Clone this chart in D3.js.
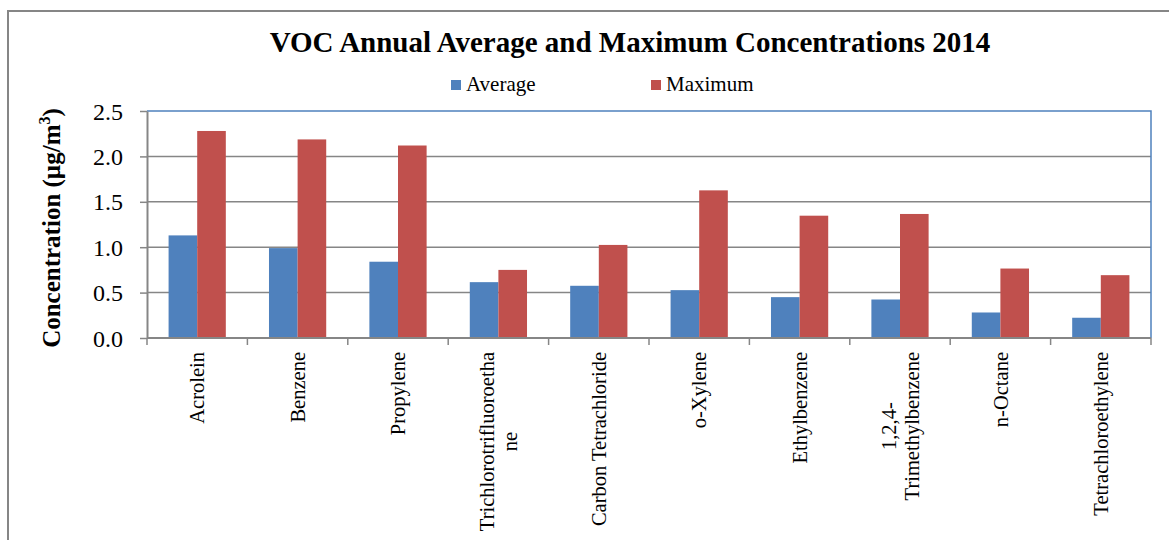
<!DOCTYPE html>
<html>
<head>
<meta charset="utf-8">
<script src="https://cdn.jsdelivr.net/npm/d3@7"></script>
<style>
  body { margin: 0; background: #fff; }
  svg { display: block; }
  svg text { font-family: 'Liberation Serif', 'Times New Roman', serif !important; fill: #000; }
</style>
</head>
<body>
<script>
// chart data
var compounds = ["Acrolein", "Benzene", "Propylene", "Trichlorotrifluoroetha|ne", "Carbon Tetrachloride",
                 "o-Xylene", "Ethylbenzene", "1,2,4-|Trimethylbenzene", "n-Octane", "Tetrachloroethylene"];
var averageVals = [1.13, 0.99, 0.84, 0.615, 0.575, 0.527, 0.45, 0.424, 0.281, 0.223];
var maximumVals = [2.28, 2.187, 2.12, 0.75, 1.025, 1.626, 1.347, 1.366, 0.765, 0.692];
var seriesNames = ["Average", "Maximum"];
var yTicks = [0, 0.5, 1.0, 1.5, 2.0, 2.5];

var colors = { "Average": "#4F81BD", "Maximum": "#C0504D" };
var width = 1169, height = 540;
var margin = { left: 147, right: 18, top: 111, bottom: 202 };

var svg = d3.select("body").append("svg")
    .attr("width", width)
    .attr("height", height);

// outer chart frame (only top and left are in view)
svg.append("path")
    .attr("d", "M8,540 V11 H1169")
    .attr("fill", "none")
    .attr("stroke", "#868686")
    .attr("stroke-width", 2);

var x = d3.scaleBand()
    .domain(compounds)
    .range([margin.left, width - margin.right])
    .paddingInner(0.43)
    .paddingOuter(0.215);
var outer = d3.scaleBand()
    .domain(compounds)
    .range([margin.left, width - margin.right]);
var xs = d3.scaleBand()
    .domain(seriesNames)
    .range([0, x.bandwidth()]);
var y = d3.scaleLinear()
    .domain([0, 2.5])
    .range([height - margin.bottom, margin.top]);

// gridlines
svg.append("g")
    .selectAll("line")
    .data(yTicks.slice(1, -1))
    .enter().append("line")
    .attr("x1", margin.left).attr("x2", width - margin.right)
    .attr("y1", function(d) { return y(d); })
    .attr("y2", function(d) { return y(d); })
    .attr("stroke", "#868686")
    .attr("stroke-width", 1.5);

// blue plot frame on top & right
svg.append("path")
    .attr("d", "M" + margin.left + "," + y(2.5) + " H" + (width - margin.right) + " V" + y(0))
    .attr("fill", "none")
    .attr("stroke", "#4F81BD")
    .attr("stroke-width", 1.5);

// bars
var groups = svg.append("g")
    .selectAll("g")
    .data(compounds)
    .enter().append("g")
    .attr("transform", function(d) { return "translate(" + x(d) + ",0)"; });

groups.selectAll("rect")
    .data(function(d, i) {
        return [{ s: "Average", v: averageVals[i] }, { s: "Maximum", v: maximumVals[i] }];
    })
    .enter().append("rect")
    .attr("x", function(d) { return xs(d.s); })
    .attr("width", xs.bandwidth())
    .attr("y", function(d) { return y(d.v); })
    .attr("height", function(d) { return y(0) - y(d.v); })
    .attr("fill", function(d) { return colors[d.s]; });

// y axis
var yAxis = svg.append("g")
    .attr("transform", "translate(" + margin.left + ",0)")
    .call(d3.axisLeft(y).tickValues(yTicks).tickFormat(d3.format(".1f")).tickSizeInner(7).tickSizeOuter(0).tickPadding(17));
yAxis.attr("font-family", null).attr("font-size", null);
yAxis.select(".domain").attr("stroke", "#868686").attr("stroke-width", 2);
yAxis.selectAll(".tick line").attr("stroke", "#868686").attr("stroke-width", 1.5);
yAxis.selectAll(".tick text")
    .style("font-size", "24px")
    .attr("dy", "0.34em");

// x axis line + ticks at category boundaries
var xAxisG = svg.append("g");
xAxisG.append("line")
    .attr("x1", margin.left).attr("x2", width - margin.right)
    .attr("y1", y(0)).attr("y2", y(0))
    .attr("stroke", "#868686").attr("stroke-width", 2);
var bounds = compounds.map(function(d) { return outer(d); }).concat([width - margin.right]);
xAxisG.selectAll("line.tk")
    .data(bounds)
    .enter().append("line")
    .attr("class", "tk")
    .attr("x1", function(d) { return d; }).attr("x2", function(d) { return d; })
    .attr("y1", y(0)).attr("y2", y(0) + 7)
    .attr("stroke", "#868686").attr("stroke-width", 1.5);

// rotated category labels, lines centred in a block hanging from the axis
var labelTop = 352, lineGap = 23;
compounds.forEach(function(c) {
    var lines = c.split("|");
    var cx = outer(c) + outer.bandwidth() / 2;
    var g = svg.append("g");
    var texts = lines.map(function(ln) {
        return g.append("text")
            .style("font-size", "20.5px")
            .attr("text-anchor", "middle")
            .attr("dy", "0.35em")
            .text(ln);
    });
    var maxLen = d3.max(texts, function(t) { return t.node().getComputedTextLength(); });
    var cy = labelTop + maxLen / 2;
    texts.forEach(function(t, j) {
        var lx = cx + (j - (lines.length - 1) / 2) * lineGap;
        t.attr("transform", "translate(" + lx + "," + cy + ") rotate(-90)");
    });
});

// y axis title
svg.append("text")
    .attr("transform", "translate(60,228) rotate(-90)")
    .attr("text-anchor", "middle")
    .style("font-size", "25px")
    .style("font-weight", "bold")
    .html("Concentration (µg/m<tspan dy='-10' style='font-size:16px'>3</tspan><tspan dy='10'>)</tspan>");

// title
svg.append("text")
    .attr("x", 630)
    .attr("y", 52)
    .attr("text-anchor", "middle")
    .style("font-size", "29px")
    .style("font-weight", "bold")
    .text("VOC Annual Average and Maximum Concentrations 2014");

// legend
var legendX = [451, 651];
var legend = svg.append("g")
    .selectAll("g")
    .data(seriesNames)
    .enter().append("g")
    .attr("transform", function(d, i) { return "translate(" + legendX[i] + ",80)"; });
legend.append("rect")
    .attr("width", 10).attr("height", 10)
    .attr("fill", function(d) { return colors[d]; });
legend.append("text")
    .attr("x", 15)
    .attr("y", 11)
    .style("font-size", "21px")
    .text(function(d) { return d; });
</script>
</body>
</html>
